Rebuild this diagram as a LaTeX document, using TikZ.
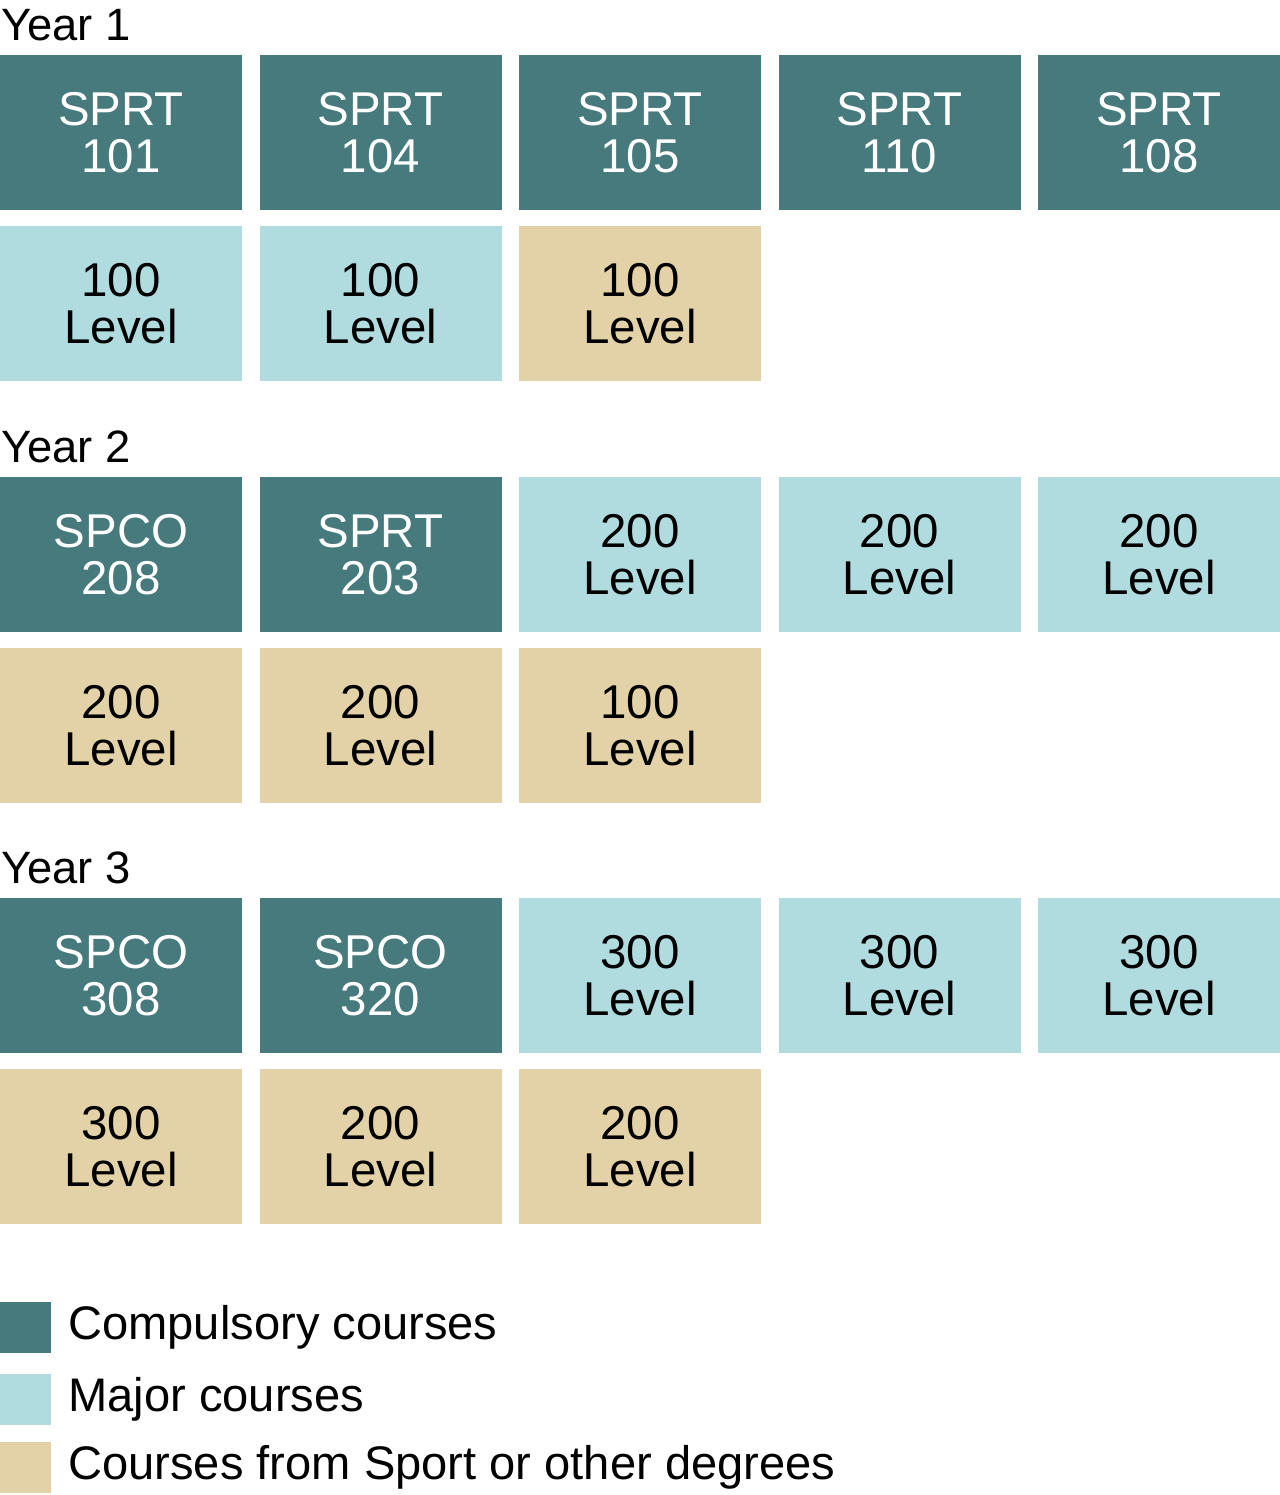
\documentclass[tikz,border=0pt]{standalone}
\usepackage{fontspec}
\setmainfont{Liberation Sans}
\usetikzlibrary{positioning}

\definecolor{core}{HTML}{477A7D}
\definecolor{major}{HTML}{B0DCDF}
\definecolor{other}{HTML}{E3D2A7}

\tikzset{
  course/.style={minimum width=4.84cm, minimum height=3.1cm, inner sep=0pt, outer sep=0pt,
    align=center, font=\fontsize{27pt}{26.4pt}\selectfont},
  corebox/.style={course, fill=core, text=white},
  majorbox/.style={course, fill=major},
  otherbox/.style={course, fill=other},
  yearlabel/.style={anchor=base west, inner sep=0pt, font=\fontsize{25.8pt}{30pt}\selectfont},
  keybox/.style={minimum size=1.02cm, inner sep=0pt, outer sep=0pt},
  keytext/.style={inner sep=0pt, anchor=base west, font=\fontsize{26.8pt}{30pt}\selectfont}
}

\begin{document}
\begin{tikzpicture}[node distance=0.35cm and 0.35cm]
  \useasboundingbox (0,0) rectangle (25.6,-29.9);

  % year 1
  \node[yearlabel] (y1) at (0.02,-0.8) {Year 1};
  \node(a1)[corebox, anchor=north west] at (0,-1.1) {SPRT\\101};
  \node(a2)[corebox, right=of a1] {SPRT\\104};
  \node(a3)[corebox, right=of a2] {SPRT\\105};
  \node(a4)[corebox, right=of a3] {SPRT\\110};
  \node(a5)[corebox, right=of a4] {SPRT\\108};
  \node(b1)[majorbox, below=0.32cm of a1] {100\\Level};
  \node(b2)[majorbox, right=of b1] {100\\Level};
  \node(b3)[otherbox, right=of b2] {100\\Level};

  % year 2
  \node[yearlabel] (y2) at (0.02,-9.24) {Year 2};
  \node(c1)[corebox, anchor=north west] at (0,-9.54) {SPCO\\208};
  \node(c2)[corebox, right=of c1] {SPRT\\203};
  \node(c3)[majorbox, right=of c2] {200\\Level};
  \node(c4)[majorbox, right=of c3] {200\\Level};
  \node(c5)[majorbox, right=of c4] {200\\Level};
  \node(d1)[otherbox, below=0.32cm of c1] {200\\Level};
  \node(d2)[otherbox, right=of d1] {200\\Level};
  \node(d3)[otherbox, right=of d2] {100\\Level};

  % year 3
  \node[yearlabel] (y3) at (0.02,-17.66) {Year 3};
  \node(e1)[corebox, anchor=north west] at (0,-17.96) {SPCO\\308};
  \node(e2)[corebox, right=of e1] {SPCO\\320};
  \node(e3)[majorbox, right=of e2] {300\\Level};
  \node(e4)[majorbox, right=of e3] {300\\Level};
  \node(e5)[majorbox, right=of e4] {300\\Level};
  \node(f1)[otherbox, below=0.32cm of e1] {300\\Level};
  \node(f2)[otherbox, right=of f1] {200\\Level};
  \node(f3)[otherbox, right=of f2] {200\\Level};

  % legend
  \node(k1)[keybox, fill=core, anchor=north west] at (0,-26.04) {};
  \node(k2)[keybox, fill=major, anchor=north west] at (0,-27.48) {};
  \node(k3)[keybox, fill=other, anchor=north west] at (0,-28.84) {};
  \node[keytext] (t1) at (1.36,-26.78) {Compulsory courses};
  \node[keytext] (t2) at (1.36,-28.22) {Major courses};
  \node[keytext] (t3) at (1.36,-29.58) {Courses from Sport or other degrees};
\end{tikzpicture}
\end{document}
